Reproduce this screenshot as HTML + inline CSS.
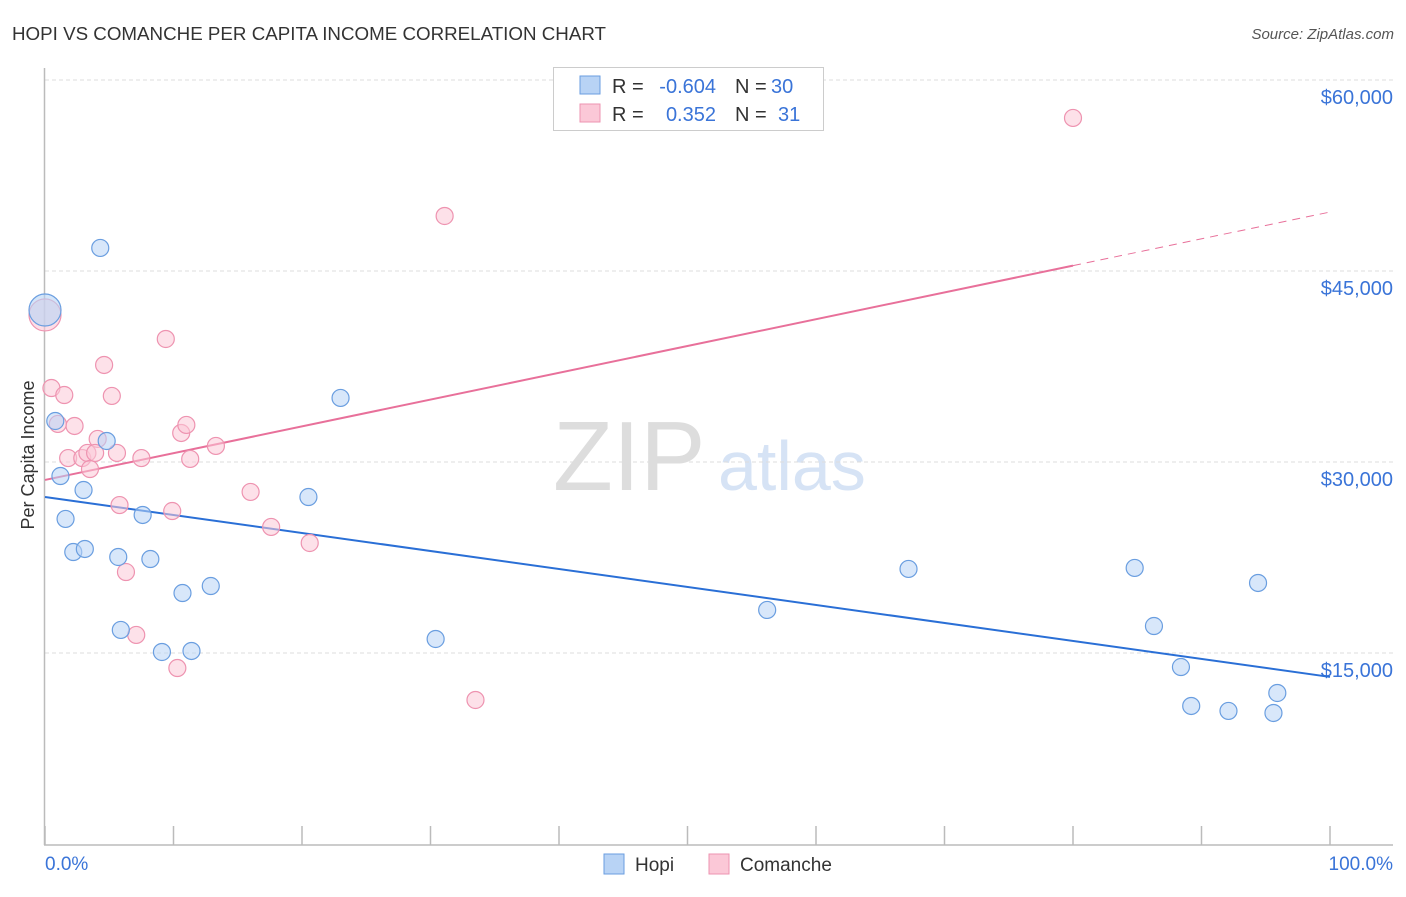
<!DOCTYPE html>
<html><head><meta charset="utf-8"><style>
body{margin:0;background:#fff;font-family:"Liberation Sans",sans-serif;}
svg text{font-family:"Liberation Sans",sans-serif;}
</style></head><body>
<svg id="chart" width="1406" height="892" xmlns="http://www.w3.org/2000/svg">
<text x="12" y="40" font-size="18" fill="#333" textLength="594" lengthAdjust="spacingAndGlyphs">HOPI VS COMANCHE PER CAPITA INCOME CORRELATION CHART</text>
<text x="1394" y="39" font-size="15" fill="#555" font-style="italic" text-anchor="end">Source: ZipAtlas.com</text>
<g>
<text x="553" y="490" font-size="98" fill="#ddd" font-family="Liberation Serif,serif">ZIP</text>
<text x="718" y="490" font-size="70" fill="#d6e3f5">atlas</text>
</g>
<g id="grid"></g><g id="axes"></g><g id="trends"></g><g id="points"></g>
<text transform="translate(34,455) rotate(-90)" font-size="18" fill="#333" text-anchor="middle">Per Capita Income</text>
<g>
<rect x="553.5" y="67.5" width="270" height="63" fill="#fff" stroke="#ccc"/>
<rect x="580" y="76" width="20" height="18" fill="#b8d3f5" stroke="#6a9ee0"/>
<rect x="580" y="104" width="20" height="18" fill="#fbc8d7" stroke="#ee93b0"/>
<g font-size="20" fill="#333">
<text x="612" y="93">R =</text><text x="716" y="93" text-anchor="end" fill="#3a74d8">-0.604</text>
<text x="735" y="93">N =</text><text x="771" y="93" fill="#3a74d8">30</text></g>
<g font-size="20" fill="#333">
<text x="612" y="121">R =</text><text x="716" y="121" text-anchor="end" fill="#3a74d8">0.352</text>
<text x="735" y="121">N =</text><text x="778" y="121" fill="#3a74d8">31</text></g>
</g>
<g>
<rect x="604" y="854" width="20" height="20" fill="#b8d3f5" stroke="#6a9ee0"/>
<text x="635" y="871" font-size="19" fill="#333">Hopi</text>
<rect x="709" y="854" width="20" height="20" fill="#fbc8d7" stroke="#ee93b0"/>
<text x="740" y="871" font-size="19" fill="#333">Comanche</text>
</g>
</svg>
<script>
const yTicks=[15000,30000,45000,60000];
const yTickLabels=["$15,000","$30,000","$45,000","$60,000"];
const hopiX=[0,0.8,1.2,1.6,2.2,3.1,3.0,4.3,4.8,5.7,5.9,7.6,8.2,9.1,10.7,11.4,12.9,20.5,23.0,30.4,56.2,67.2,84.8,86.3,88.4,89.2,92.1,94.4,95.6,95.9];
const hopiY=[41940,33220,28900,25530,22930,23170,27800,46810,31650,22540,16810,25840,22380,15080,19710,15160,20260,27250,35030,16100,18380,21600,21680,17120,13900,10840,10450,20500,10290,11860];
const comX=[0,0.5,1.0,1.5,1.8,2.3,2.9,3.3,3.5,4.1,3.9,4.6,5.2,5.6,5.8,6.3,7.1,7.5,9.4,9.9,10.3,10.6,11.0,11.3,13.3,16.0,17.6,20.6,31.1,33.5,80.0];
const comY=[41550,35810,32990,35260,30310,32830,30310,30710,29450,31810,30710,37620,35190,30710,26620,21360,16420,30310,39660,26150,13820,32280,32910,30240,31260,27650,24900,23640,49320,11310,57020];
const hopiTrend=[27250,13120];
const comTrend=[28590,49630];
const comSolidEnd=80;
const NS="http://www.w3.org/2000/svg";
const X=p=>45+p*12.85;
const Y=v=>80+(60000-v)*191/15000;
function mk(tag,attrs,parent){const e=document.createElementNS(NS,tag);for(const k in attrs)e.setAttribute(k,attrs[k]);document.getElementById(parent).appendChild(e);return e;}
yTicks.forEach((t,i)=>{
 let l=mk('line',{x1:45,x2:1393,y1:Y(t),y2:Y(t),stroke:'#ddd','stroke-dasharray':'4,3'},'grid');
 
 
 let tx=mk('text',{x:1393,y:Y(t)+24,'font-size':20,fill:'#3a74d8','text-anchor':'end'},'grid');
 tx.textContent=yTickLabels[i];
 
 
});
let ax=mk('line',{x1:44.5,x2:44.5,y1:68,y2:845,stroke:'#bbb','stroke-width':1.5},'axes');


let bx=mk('line',{x1:44,x2:1393,y1:845,y2:845,stroke:'#bbb','stroke-width':1.5},'axes');


for(let i=0;i<=10;i++){
 let t=mk('line',{x1:X(i*10),x2:X(i*10),y1:826,y2:845,stroke:'#bbb','stroke-width':1.5},'axes');
 
 
}
let l0=mk('text',{x:45,y:870,'font-size':19,fill:'#3a74d8'},'axes');l0.textContent='0.0%';


let l1=mk('text',{x:1393,y:870,'font-size':19,fill:'#3a74d8','text-anchor':'end'},'axes');l1.textContent='100.0%';


const lin=(a,p)=>a[0]+(a[1]-a[0])*p/100;
let ht=mk('line',{x1:X(0),y1:Y(hopiTrend[0]),x2:X(100),y2:Y(hopiTrend[1]),stroke:'#2a6fd6','stroke-width':2},'trends');


let ct=mk('line',{x1:X(0),y1:Y(comTrend[0]),x2:X(comSolidEnd),y2:Y(lin(comTrend,comSolidEnd)),stroke:'#e8709a','stroke-width':2},'trends');


let cd=mk('line',{x1:X(comSolidEnd),y1:Y(lin(comTrend,comSolidEnd)),x2:X(100),y2:Y(comTrend[1]),stroke:'#e8709a','stroke-width':1,'stroke-dasharray':'8,6'},'trends');


function pts(xs,ys,fill,stroke,name){
 xs.forEach((x,i)=>{
  const big=i===0;
  let c=mk('circle',{cx:X(x),cy:Y(ys[i]),r:big?16:8.5,fill:fill,'fill-opacity':big?0.6:0.55,stroke:stroke,'stroke-width':1.2},'points');
  
  
 });
}
pts(comX,comY,'#fbc8d7','#ee93b0','comanche-point');
pts(hopiX,hopiY,'#b8d3f5','#6a9ee0','hopi-point');
</script>
</body></html>
